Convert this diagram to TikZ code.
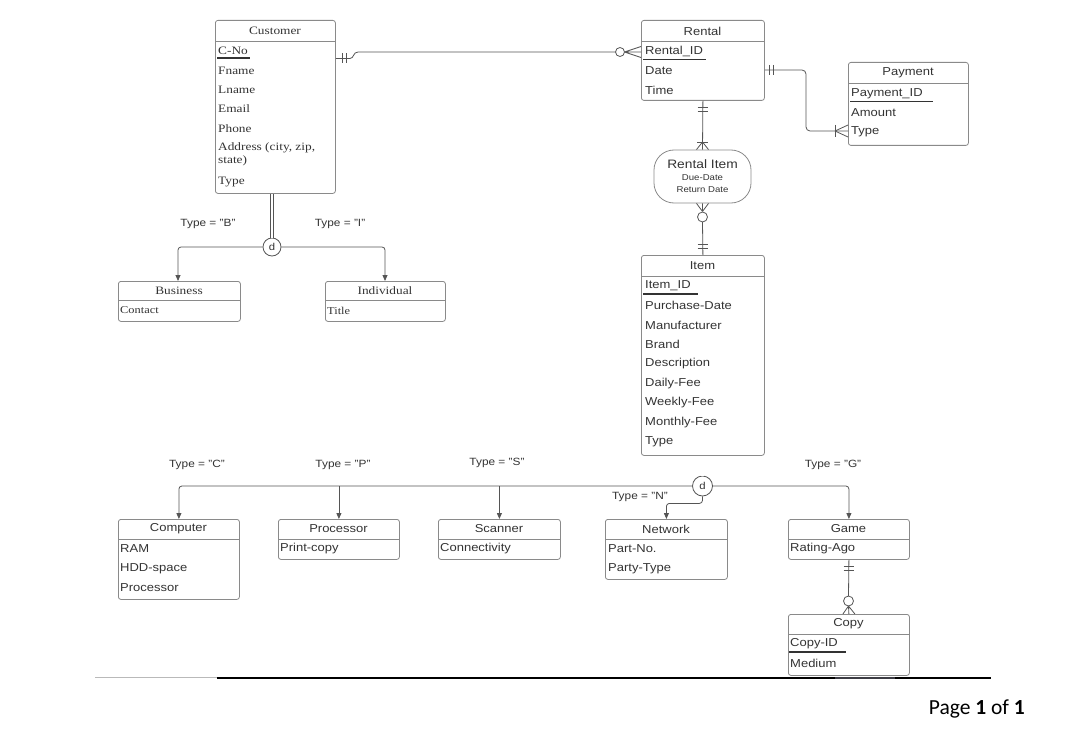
\documentclass[tikz,border=0pt]{standalone}
\usepackage{fontspec}
\setmainfont{Liberation Serif}[FakeStretch=1.18]
\setsansfont{Liberation Sans}[FakeStretch=1.13]
\newfontfamily\carlito{Carlito}
\usetikzlibrary{arrows.meta}
\definecolor{boxgray}{HTML}{8A8A8A}
\definecolor{lngray}{HTML}{555555}
\definecolor{txt}{HTML}{333333}
\definecolor{footseg}{HTML}{3C3C44}
\tikzset{
  ebox/.style={draw=boxgray, line width=0.8pt, rounded corners=2.5pt, anchor=north west, inner sep=0pt},
  att/.style={anchor=west, inner sep=0pt, text=txt, font=\sffamily\fontsize{11.5}{12}\selectfont},
  satt/.style={anchor=west, inner sep=0pt, text=txt, font=\rmfamily\fontsize{11.3}{12}\selectfont},
  hdr/.style={anchor=center, inner sep=0pt, text=txt, font=\sffamily\fontsize{11.5}{12}\selectfont},
  shdr/.style={anchor=center, inner sep=0pt, text=txt, font=\rmfamily\fontsize{11.3}{12}\selectfont},
  sep/.style={draw=boxgray, line width=0.8pt},
  conn/.style={draw=lngray, line width=0.8pt},
  arr/.style={-{Triangle[width=5pt,length=6pt]}},
  keyline/.style={draw=txt, line width=1.1pt},
  lbl/.style={inner sep=0pt, text=txt, font=\sffamily\fontsize{10.5}{12}\selectfont},
  dcirc/.style={circle, draw=lngray, line width=0.8pt, fill=white, inner sep=0pt, text=txt, font=\sffamily\fontsize{10}{11}\selectfont},
}
\begin{document}
\begin{tikzpicture}[x=1pt,y=-1pt]
\useasboundingbox (0,0) rectangle (1068,733);

% ---------- Customer ----------
\node[ebox, minimum width=120pt, minimum height=173pt] (cust) at (215,20) {};
\node[shdr] (custh) at (275,31) {Customer};
\draw[sep] (215,41) -- (335,41);
\node[satt] (cno) at (218,51) {C-No};
\draw[keyline] (217,58) -- (250,58);
\node[satt] (cfn) at (218,71) {Fname};
\node[satt] (cln) at (218,90) {Lname};
\node[satt] (cem) at (218,109) {Email};
\node[satt] (cph) at (218,129) {Phone};
\node[satt] (cad) at (218,148) {Address (city, zip,};
\node[satt] (cad2) at (218,161) {state)};
\node[satt] (cty) at (218,182) {Type};

% ---------- Rental ----------
\node[ebox, minimum width=123pt, minimum height=80pt] (rental) at (641,20) {};
\node[hdr] (rentalh) at (702.5,31) {Rental};
\draw[sep] (641,41) -- (764,41);
\node[att] (rid) at (645,51) {Rental\_ID};
\draw[keyline] (643,59.5) -- (706,59.5);
\node[att] (rdate) at (645,71) {Date};
\node[att] (rtime) at (645,90) {Time};

% ---------- Payment ----------
\node[ebox, minimum width=120pt, minimum height=83pt] (pay) at (848,62) {};
\node[hdr] (payh) at (908,73) {Payment};
\draw[sep] (848,83) -- (968,83);
\node[att] (pid) at (851,93.5) {Payment\_ID};
\draw[keyline] (850,101.5) -- (933,101.5);
\node[att] (pamt) at (851,113) {Amount};
\node[att] (ptype) at (851,132) {Type};

% ---------- Rental Item ----------
\node[draw=boxgray, line width=0.8pt, rounded corners=20pt, minimum width=97pt, minimum height=53pt,
      align=center, text=txt, font=\sffamily\fontsize{12.2}{13}\selectfont, inner sep=0pt]
  (ritem) at (702.5,176.5) {Rental Item\\[-1pt]{\fontsize{8.5}{11.5}\selectfont Due-Date}\\[-1pt]{\fontsize{8.5}{9.5}\selectfont Return Date}};

% ---------- Item ----------
\node[ebox, minimum width=123pt, minimum height=200pt] (item) at (641,255) {};
\node[hdr] (itemh) at (702.5,266) {Item};
\draw[sep] (641,276) -- (764,276);
\node[att] (iid) at (645,286) {Item\_ID};
\draw[keyline] (643,294) -- (698,294);
\node[att] (ipd) at (645,305.5) {Purchase-Date};
\node[att] (iman) at (645,325) {Manufacturer};
\node[att] (ibr) at (645,344.5) {Brand};
\node[att] (ides) at (645,364) {Description};
\node[att] (idf) at (645,383.5) {Daily-Fee};
\node[att] (iwf) at (645,403) {Weekly-Fee};
\node[att] (imf) at (645,422.5) {Monthly-Fee};
\node[att] (ity) at (645,442) {Type};

% ---------- Business / Individual ----------
\node[ebox, minimum width=122pt, minimum height=40pt] (bus) at (118,281) {};
\node[shdr] (bush) at (179,291) {Business};
\draw[sep] (118,300) -- (240,300);
\node[satt, font=\rmfamily\fontsize{10.5}{11}\selectfont] (bcon) at (120,310.5) {Contact};

\node[ebox, minimum width=120pt, minimum height=40pt] (ind) at (325,281) {};
\node[shdr] (indh) at (385,291) {Individual};
\draw[sep] (325,300) -- (445,300);
\node[satt, font=\rmfamily\fontsize{10.5}{11}\selectfont] (ititle) at (327,310.5) {Title};

% ---------- Item subtypes ----------
\node[ebox, minimum width=121pt, minimum height=80pt] (comp) at (118,519) {};
\node[hdr] (comph) at (178.5,529) {Computer};
\draw[sep] (118,539) -- (239,539);
\node[att] (cram) at (120,549) {RAM};
\node[att] (chdd) at (120,568.5) {HDD-space};
\node[att] (cproc) at (120,588) {Processor};

\node[ebox, minimum width=121pt, minimum height=40pt] (proc) at (278,519) {};
\node[hdr] (proch) at (338.5,529) {Processor};
\draw[sep] (278,539) -- (399,539);
\node[att] (ppc) at (280,549) {Print-copy};

\node[ebox, minimum width=122pt, minimum height=40pt] (scan) at (438,519) {};
\node[hdr] (scanh) at (499,529) {Scanner};
\draw[sep] (438,539) -- (560,539);
\node[att] (scon) at (440,549) {Connectivity};

\node[ebox, minimum width=122pt, minimum height=60pt] (net) at (605,519) {};
\node[hdr] (neth) at (666,529) {Network};
\draw[sep] (605,539) -- (727,539);
\node[att] (npn) at (608,549) {Part-No.};
\node[att] (npt) at (608,568.5) {Party-Type};

\node[ebox, minimum width=121pt, minimum height=40pt] (game) at (788,519) {};
\node[hdr] (gameh) at (848.5,529) {Game};
\draw[sep] (788,539) -- (909,539);
\node[att] (gra) at (790,549) {Rating-Ago};

\node[ebox, minimum width=121pt, minimum height=61pt] (copy) at (788,614) {};
\node[hdr] (copyh) at (848.5,624) {Copy};
\draw[sep] (788,634) -- (909,634);
\node[att] (cid) at (790,644) {Copy-ID};
\draw[keyline] (789,652) -- (846,652);
\node[att] (cmed) at (790,663) {Medium};

% ---------- Customer -- Rental ----------
\draw[conn] (cust.east |- 0,58.5) -- (350,58.5) .. controls (354,58.5) and (353,52) .. (358,52) -- (615.5,52);
\draw[conn] (342,53.5) -- (342,63.5) (346,53.5) -- (346,63.5);
\draw[conn] (620,52) circle (4.5);
\coordinate (cfr) at (624.5,52);
\draw[conn] (cfr) -- (rental.west |- 0,46.5) (cfr) -- (rental.west |- 0,52) (cfr) -- (rental.west |- 0,57.5);

% ---------- Rental -- Payment ----------
\draw[conn, rounded corners=4pt] (rental.east |- 0,70) -- (806,70) -- (806,131) -- (pay.west |- 0,131);
\draw[conn] (769,65) -- (769,75) (773,65) -- (773,75);
\coordinate (pfr) at (835,131);
\draw[conn] (835,125) -- (835,137);
\draw[conn] (pfr) -- (pay.west |- 0,125) (pfr) -- (pay.west |- 0,137);

% ---------- Rental -- Rental Item ----------
\draw[conn] (rental.south) -- (ritem.north);
\draw[conn] (697.5,107) -- (707.5,107) (697.5,111) -- (707.5,111);
\coordinate (rfr) at (702.5,142);
\draw[conn] (697,142) -- (708,142);
\draw[conn] (rfr) -- ([xshift=-6pt]ritem.north) (rfr) -- ([xshift=6pt]ritem.north);

% ---------- Rental Item -- Item ----------
\coordinate (ifr) at (702.5,211.5);
\draw[conn] (ifr) -- ([xshift=-6pt]ritem.south) (ifr) -- (ritem.south) (ifr) -- ([xshift=6pt]ritem.south);
\draw[conn] (702.5,217) circle (5);
\draw[conn] (702.5,222) -- (item.north);
\draw[conn] (697.5,244) -- (707.5,244) (697.5,248) -- (707.5,248);

% ---------- Customer specialization ----------
\node[dcirc, minimum size=18pt] (dC) at (272,247) {d};
\draw[conn, double=white, double distance=2.2pt] (dC.north) -- (dC.north |- cust.south);
\draw[conn, arr, rounded corners=3pt] (dC.west) -| (bus.north -| 178,0);
\draw[conn, arr, rounded corners=3pt] (dC.east) -| (ind.north -| 385,0);
\node[lbl] (lB) at (208,224) {Type = "B"};
\node[lbl] (lI) at (340,224) {Type = "I"};

% ---------- Item specialization ----------
\node[dcirc, minimum size=20pt] (dI) at (702.5,486) {d};
\draw[conn, double=white, double distance=2.2pt] (dI.north) -- (dI.north |- item.south);
\draw[conn, arr, rounded corners=3pt] (dI.west) -| (comp.north);
\draw[conn, arr, rounded corners=3pt] (proc.north |- dI.west) -- (proc.north);
\draw[conn, arr, rounded corners=3pt] (scan.north |- dI.west) -- (scan.north);
\draw[conn, arr, rounded corners=3pt] (dI.east) -| (game.north);
\draw[conn, arr, rounded corners=3pt] (dI.south) -- ++(0,7) -| (net.north);
\node[lbl] (lC) at (197,465) {Type = "C"};
\node[lbl] (lP) at (343,465) {Type = "P"};
\node[lbl] (lS) at (497,463) {Type = "S"};
\node[lbl] (lN) at (640,497) {Type = "N"};
\node[lbl] (lG) at (833,465) {Type = "G"};

% ---------- Game -- Copy ----------
\draw[conn] (game.south) -- (848.5,596);
\draw[conn] (843.5,566) -- (853.5,566) (843.5,570) -- (853.5,570);
\draw[conn] (848.5,601) circle (5);
\coordinate (gfr) at (848.5,606);
\draw[conn] (gfr) -- ([xshift=-6pt]copy.north) (gfr) -- (copy.north) (gfr) -- ([xshift=6pt]copy.north);

% ---------- footer ----------
\draw[gray!55, line width=0.7pt] (95,677) -- (217,677);
\draw[black, line width=2.6pt] (217,678) -- (835,678);
\draw[footseg, line width=2.6pt] (835,678) -- (895,678);
\draw[black, line width=2.6pt] (895,678) -- (991,678);
\node[anchor=east, inner sep=0pt, font=\carlito\fontsize{21.5}{23}\selectfont] (pg) at (1025,709) {Page \textbf{1} of \textbf{1}};
\end{tikzpicture}
\end{document}
